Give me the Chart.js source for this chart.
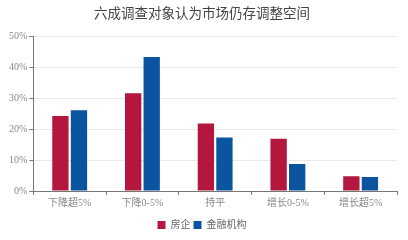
<!DOCTYPE html>
<html>
<head>
<meta charset="utf-8">
<script src="https://cdn.jsdelivr.net/npm/chart.js@4"></script>
<style>
  html, body { margin: 0; padding: 0; background: #fff; }
  #wrap { width: 408px; height: 240px; }
</style>
</head>
<body>
<div id="wrap"><canvas id="chart" width="408" height="240"></canvas></div>
<script>
const categories = ['下降超5%', '下降0-5%', '持平', '增长0-5%', '增长超5%'];
const developers = [24.2, 31.6, 21.8, 16.9, 4.8];
const institutions = [26.1, 43.3, 17.3, 8.7, 4.5];
const yTicks = [0, 10, 20, 30, 40, 50];

const fontFamily = "'Liberation Serif', 'DejaVu Serif', 'Noto Sans CJK SC', serif";

new Chart(document.getElementById('chart'), {
    type: 'bar',
    data: {
        labels: categories,
        datasets: [
            {
                label: '房企',
                data: developers,
                backgroundColor: '#b3173d',
                categoryPercentage: 0.51,
                barPercentage: 0.88
            },
            {
                label: '金融机构',
                data: institutions,
                backgroundColor: '#0b55a0',
                categoryPercentage: 0.51,
                barPercentage: 0.88
            }
        ]
    },
    options: {
        responsive: false,
        animation: false,
        layout: { padding: { left: 7, right: 11, top: 0, bottom: 0 } },
        plugins: {
            title: {
                display: true,
                text: '六成调查对象认为市场仍存调整空间',
                color: '#444',
                font: { family: fontFamily, size: 13.5, weight: 'normal' },
                padding: { top: 6, bottom: 14 }
            },
            legend: {
                position: 'bottom',
                labels: {
                    color: '#666',
                    font: { family: fontFamily, size: 10 },
                    boxWidth: 8,
                    boxHeight: 8,
                    padding: 3
                }
            },
            tooltip: { enabled: false }
        },
        scales: {
            x: {
                afterFit: axis => { axis.height += 6; },
                grid: {
                    offset: true,
                    drawOnChartArea: false,
                    drawTicks: true,
                    tickLength: 4,
                    color: '#777'
                },
                border: { color: '#777' },
                ticks: {
                    color: '#888',
                    font: { family: fontFamily, size: 10 },
                    padding: 2
                }
            },
            y: {
                min: 0,
                max: 50,
                afterBuildTicks: axis => {
                    axis.ticks = yTicks.map(v => ({ value: v }));
                },
                grid: {
                    color: '#e8e8e8',
                    tickColor: '#777',
                    tickLength: 4
                },
                border: { color: '#777' },
                ticks: {
                    color: '#888',
                    font: { family: fontFamily, size: 10 },
                    padding: 2,
                    callback: v => v + '%'
                }
            }
        }
    }
});
</script>
</body>
</html>
